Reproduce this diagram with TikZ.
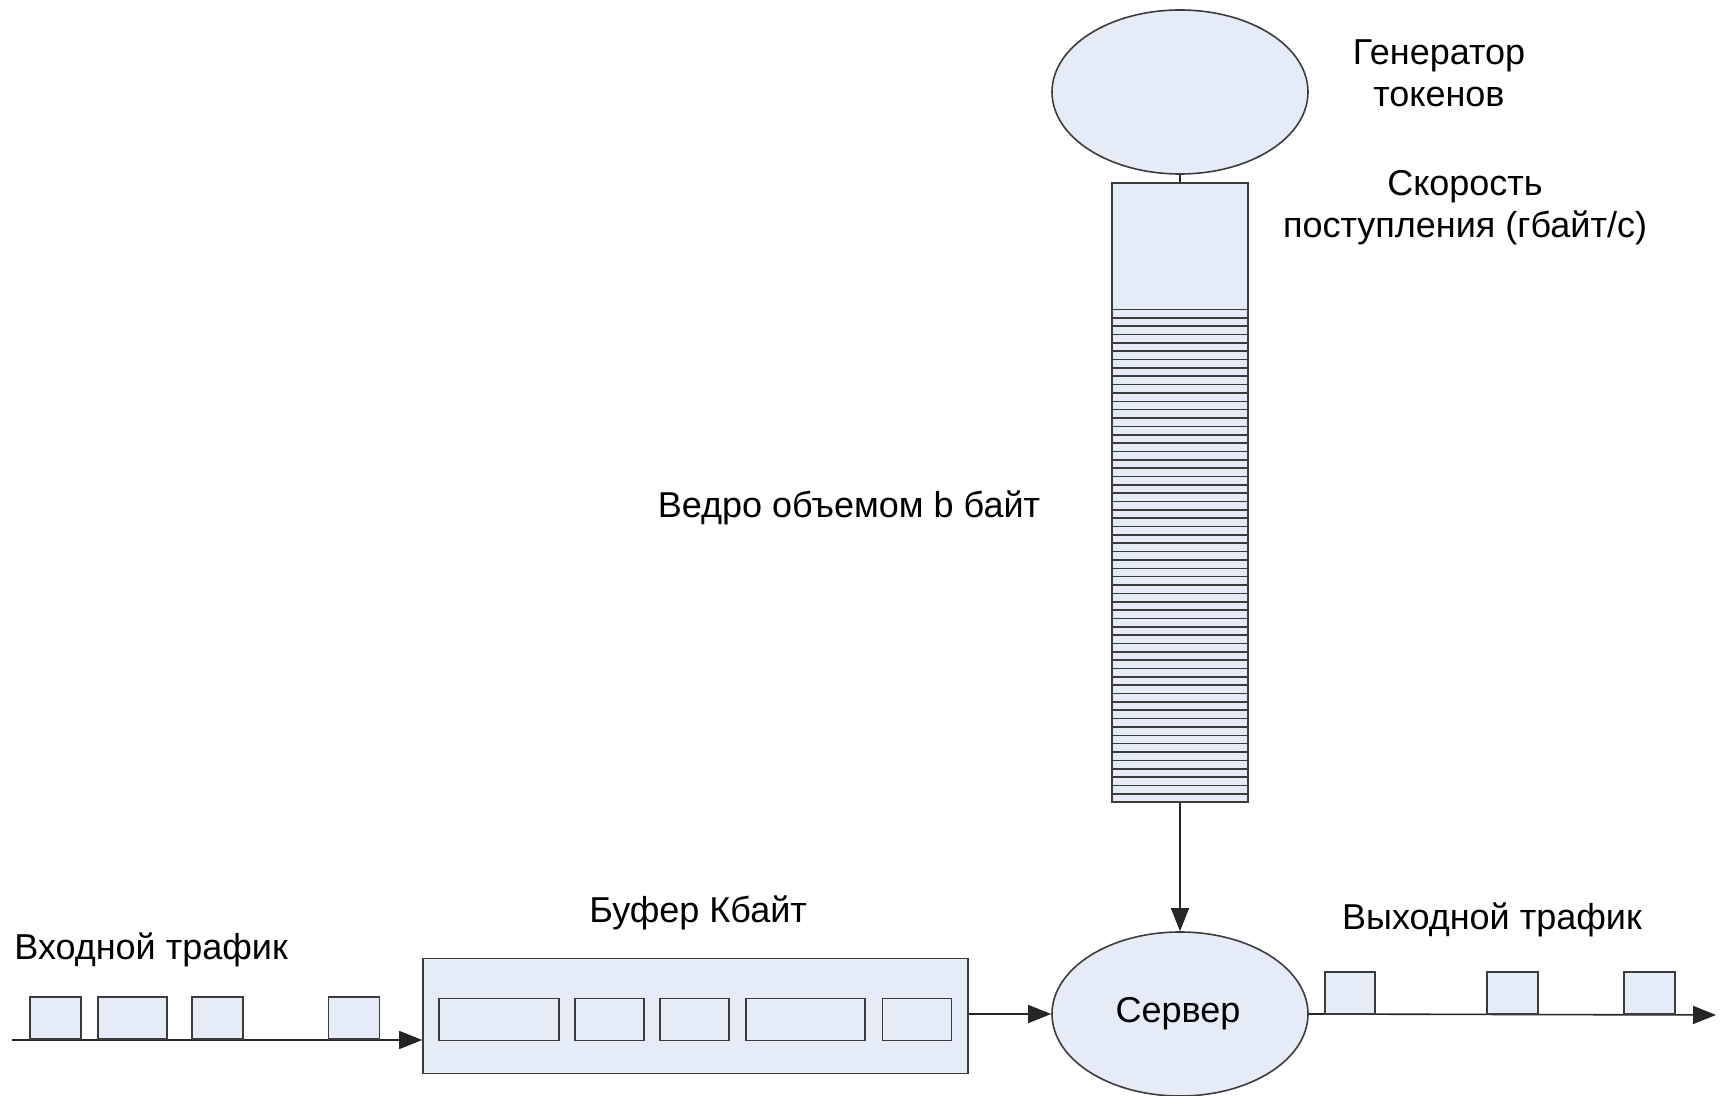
\documentclass[tikz,border=0pt]{standalone}
\usepackage{fontspec}
\setmainfont{Liberation Sans}
\usetikzlibrary{shapes.geometric,arrows.meta}
\definecolor{boxfill}{RGB}{230,236,247}
\definecolor{edge}{RGB}{60,60,60}
\begin{document}
\begin{tikzpicture}[x=0.5pt,y=-0.5pt,
  shapeline/.style={draw=edge, line width=0.8pt, fill=boxfill},
  ell/.style={shapeline, ellipse, minimum width=128pt, minimum height=82pt, inner sep=0pt},
  pkt/.style={shapeline, rectangle, inner sep=0pt, minimum height=21pt},
  lbl/.style={font=\fontsize{18}{21}\selectfont, text=black, inner sep=0pt, align=center},
  conn/.style={draw=black!85, line width=0.8pt},
  arr/.style={conn, -{Triangle[length=11.5pt,width=9pt]}},
]
\useasboundingbox (0,0) rectangle (1721,1096);

% token generator and bucket
\node[ell] (gen) at (1180,92) {};
\node[shapeline, rectangle, inner sep=0pt, minimum width=68pt, minimum height=309.5pt] (bucket) at (1180,492.5) {};
\foreach \k in {0,...,58} {
  \draw[draw=edge, line width=0.8pt] (1112,{309.5+\k*8.35}) -- (1248,{309.5+\k*8.35});
}
\draw[conn] (gen.south) -- (bucket.north);

% server
\node[ell] (srv) at (1180,1014) {};
\node[lbl] (srvt) at (1178,1014) {Сервер};
\draw[arr] (bucket.south) -- (srv.north);

% buffer
\node[shapeline, rectangle, inner sep=0pt, minimum width=272.5pt, minimum height=57.5pt] (buf) at (695.5,1016) {};
\node[pkt, minimum width=60pt] (s1) at (499,1019.5) {};
\node[pkt, minimum width=34.5pt] (s2) at (609.5,1019.5) {};
\node[pkt, minimum width=34.5pt] (s3) at (694.5,1019.5) {};
\node[pkt, minimum width=59.5pt] (s4) at (805.5,1019.5) {};
\node[pkt, minimum width=34.5pt] (s5) at (917,1019.5) {};

% input traffic
\coordinate (in) at (12,1040);
\draw[arr] (in) -- (in -| buf.west);
\node[pkt, minimum width=25.5pt, anchor=south] (p1) at (55.5,1040) {};
\node[pkt, minimum width=34.5pt, anchor=south] (p2) at (132.5,1040) {};
\node[pkt, minimum width=25.5pt, anchor=south] (p3) at (217.5,1040) {};
\node[pkt, minimum width=25.5pt, anchor=south] (p4) at (354,1040) {};

% buffer to server
\draw[arr] (buf.east |- srv.west) -- (srv.west);

% output traffic
\coordinate (out) at (1716,1015);
\draw[arr] (srv.east) -- (out);
\node[pkt, minimum width=25pt, anchor=south] (o1) at (1350,1015) {};
\node[pkt, minimum width=25.5pt, anchor=south] (o2) at (1512.5,1015) {};
\node[pkt, minimum width=25.5pt, anchor=south] (o3) at (1649.5,1015) {};

% labels
\node[lbl] (lgen) at (1439,73) {Генератор\\токенов};
\node[lbl] (lrate) at (1465,208) {Скорость\\поступления (гбайт/с)};
\node[lbl] (lbucket) at (849,508) {Ведро объемом b байт};
\node[lbl, anchor=west] (lbuf) at (589,913) {Буфер Кбайт};
\node[lbl, anchor=west] (lin) at (14,950) {Входной трафик};
\node[lbl] (lout) at (1492,920) {Выходной трафик};
\end{tikzpicture}
\end{document}
